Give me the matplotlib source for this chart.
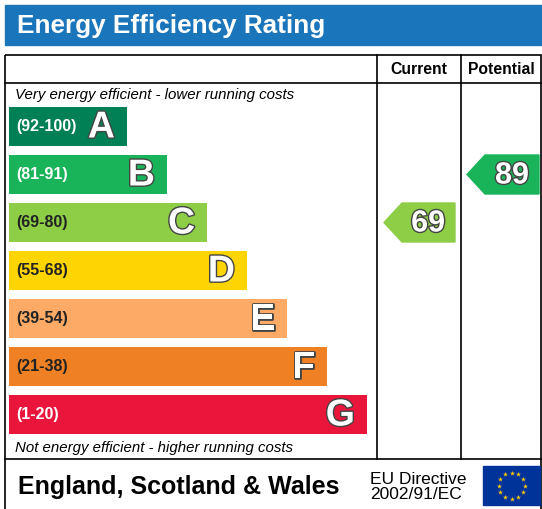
import matplotlib
matplotlib.use("Agg")
import matplotlib.pyplot as plt
import matplotlib.patheffects as pe
from matplotlib.patches import Rectangle, Polygon
import numpy as np

bands = ["A", "B", "C", "D", "E", "F", "G"]
ranges = ["(92-100)", "(81-91)", "(69-80)", "(55-68)", "(39-54)", "(21-38)", "(1-20)"]
colors = ["#008054", "#19b459", "#8dce46", "#ffd500", "#fcaa65", "#ef8023", "#e9153b"]
current_value = 69
potential_value = 89

def band_of(v):
    lows = [92, 81, 69, 55, 39, 21, 1]
    for i, lo in enumerate(lows):
        if v >= lo:
            return i
    return 6

fig = plt.figure(figsize=(5.42, 5.09), dpi=100)
ax = fig.add_axes([0, 0, 1, 1])
ax.set_xlim(0, 542)
ax.set_ylim(509, 0)
ax.axis("off")

# title bar
ax.add_patch(Rectangle((5, 5), 537, 40, color="#1a75bb"))
ax.text(17, 26, "Energy Efficiency Rating", color="white", fontsize=18.8,
        fontweight="bold", va="center", family="Liberation Sans")

# frame
lw = 1.2
ax.add_patch(Rectangle((5, 55), 536, 460, fill=False, lw=lw, ec="black"))
ax.plot([5, 541], [83, 83], color="black", lw=lw)
ax.plot([5, 541], [459, 459], color="black", lw=lw)
ax.plot([377, 377], [55, 459], color="black", lw=lw)
ax.plot([461, 461], [55, 459], color="black", lw=lw)
ax.text(419, 69, "Current", fontsize=11.3, fontweight="bold", ha="center", va="center",
        family="Liberation Sans")
ax.text(501, 69, "Potential", fontsize=11.3, fontweight="bold", ha="center", va="center",
        family="Liberation Sans")

ax.text(15, 95, "Very energy efficient - lower running costs", fontsize=10.8, style="italic",
        va="center", family="Liberation Sans")
ax.text(15, 448, "Not energy efficient - higher running costs", fontsize=10.8, style="italic",
        va="center", family="Liberation Sans")

stroke = [pe.withStroke(linewidth=2, foreground="#444444")]
top0, step, h = 107, 48, 39
for i, (b, r, c) in enumerate(zip(bands, ranges, colors)):
    y = top0 + i * step
    right = 127 + i * 40
    ax.barh(y + h / 2, right - 9, left=9, height=h, color=c)
    ax.text(16, y + h / 2, r, fontsize=11.5, fontweight="bold", va="center",
            color="white" if i in (0, 1, 6) else "#222222", family="Liberation Sans")
    ax.text(right - 12, y + h / 2 + 1, b, fontsize=27, fontweight="bold", ha="right",
            va="center", color="white", path_effects=stroke, family="Liberation Sans")

def arrow(x0, x1, value):
    i = band_of(value)
    yc = top0 + i * step + h / 2
    pts = [(x0, yc), (x0 + 18, yc - h / 2), (x1, yc - h / 2), (x1, yc + h / 2), (x0 + 18, yc + h / 2)]
    ax.add_patch(Polygon(pts, closed=True, color=colors[i]))
    ax.text(x1 - 10, yc + 1, str(value), fontsize=22, fontweight="bold", ha="right",
            va="center", color="white", path_effects=stroke, family="Liberation Sans")

arrow(384, 455, current_value)
arrow(467, 539, potential_value)

# footer
ax.text(18, 487, "England, Scotland & Wales", fontsize=18, fontweight="bold",
        va="center", family="Liberation Sans")
ax.text(370, 487, "EU Directive\n2002/91/EC", fontsize=12.5, va="center",
        linespacing=1.0, family="Liberation Sans")
ax.add_patch(Rectangle((483, 466), 57, 39, color="#003399"))
ang = np.linspace(0, 2 * np.pi, 13)[:-1]
ax.scatter(511.5 + 13 * np.cos(ang), 485.5 + 13 * np.sin(ang), marker="*", s=14,
           color="#ffcc00", linewidths=0)

fig.savefig("out.png", dpi=100)
